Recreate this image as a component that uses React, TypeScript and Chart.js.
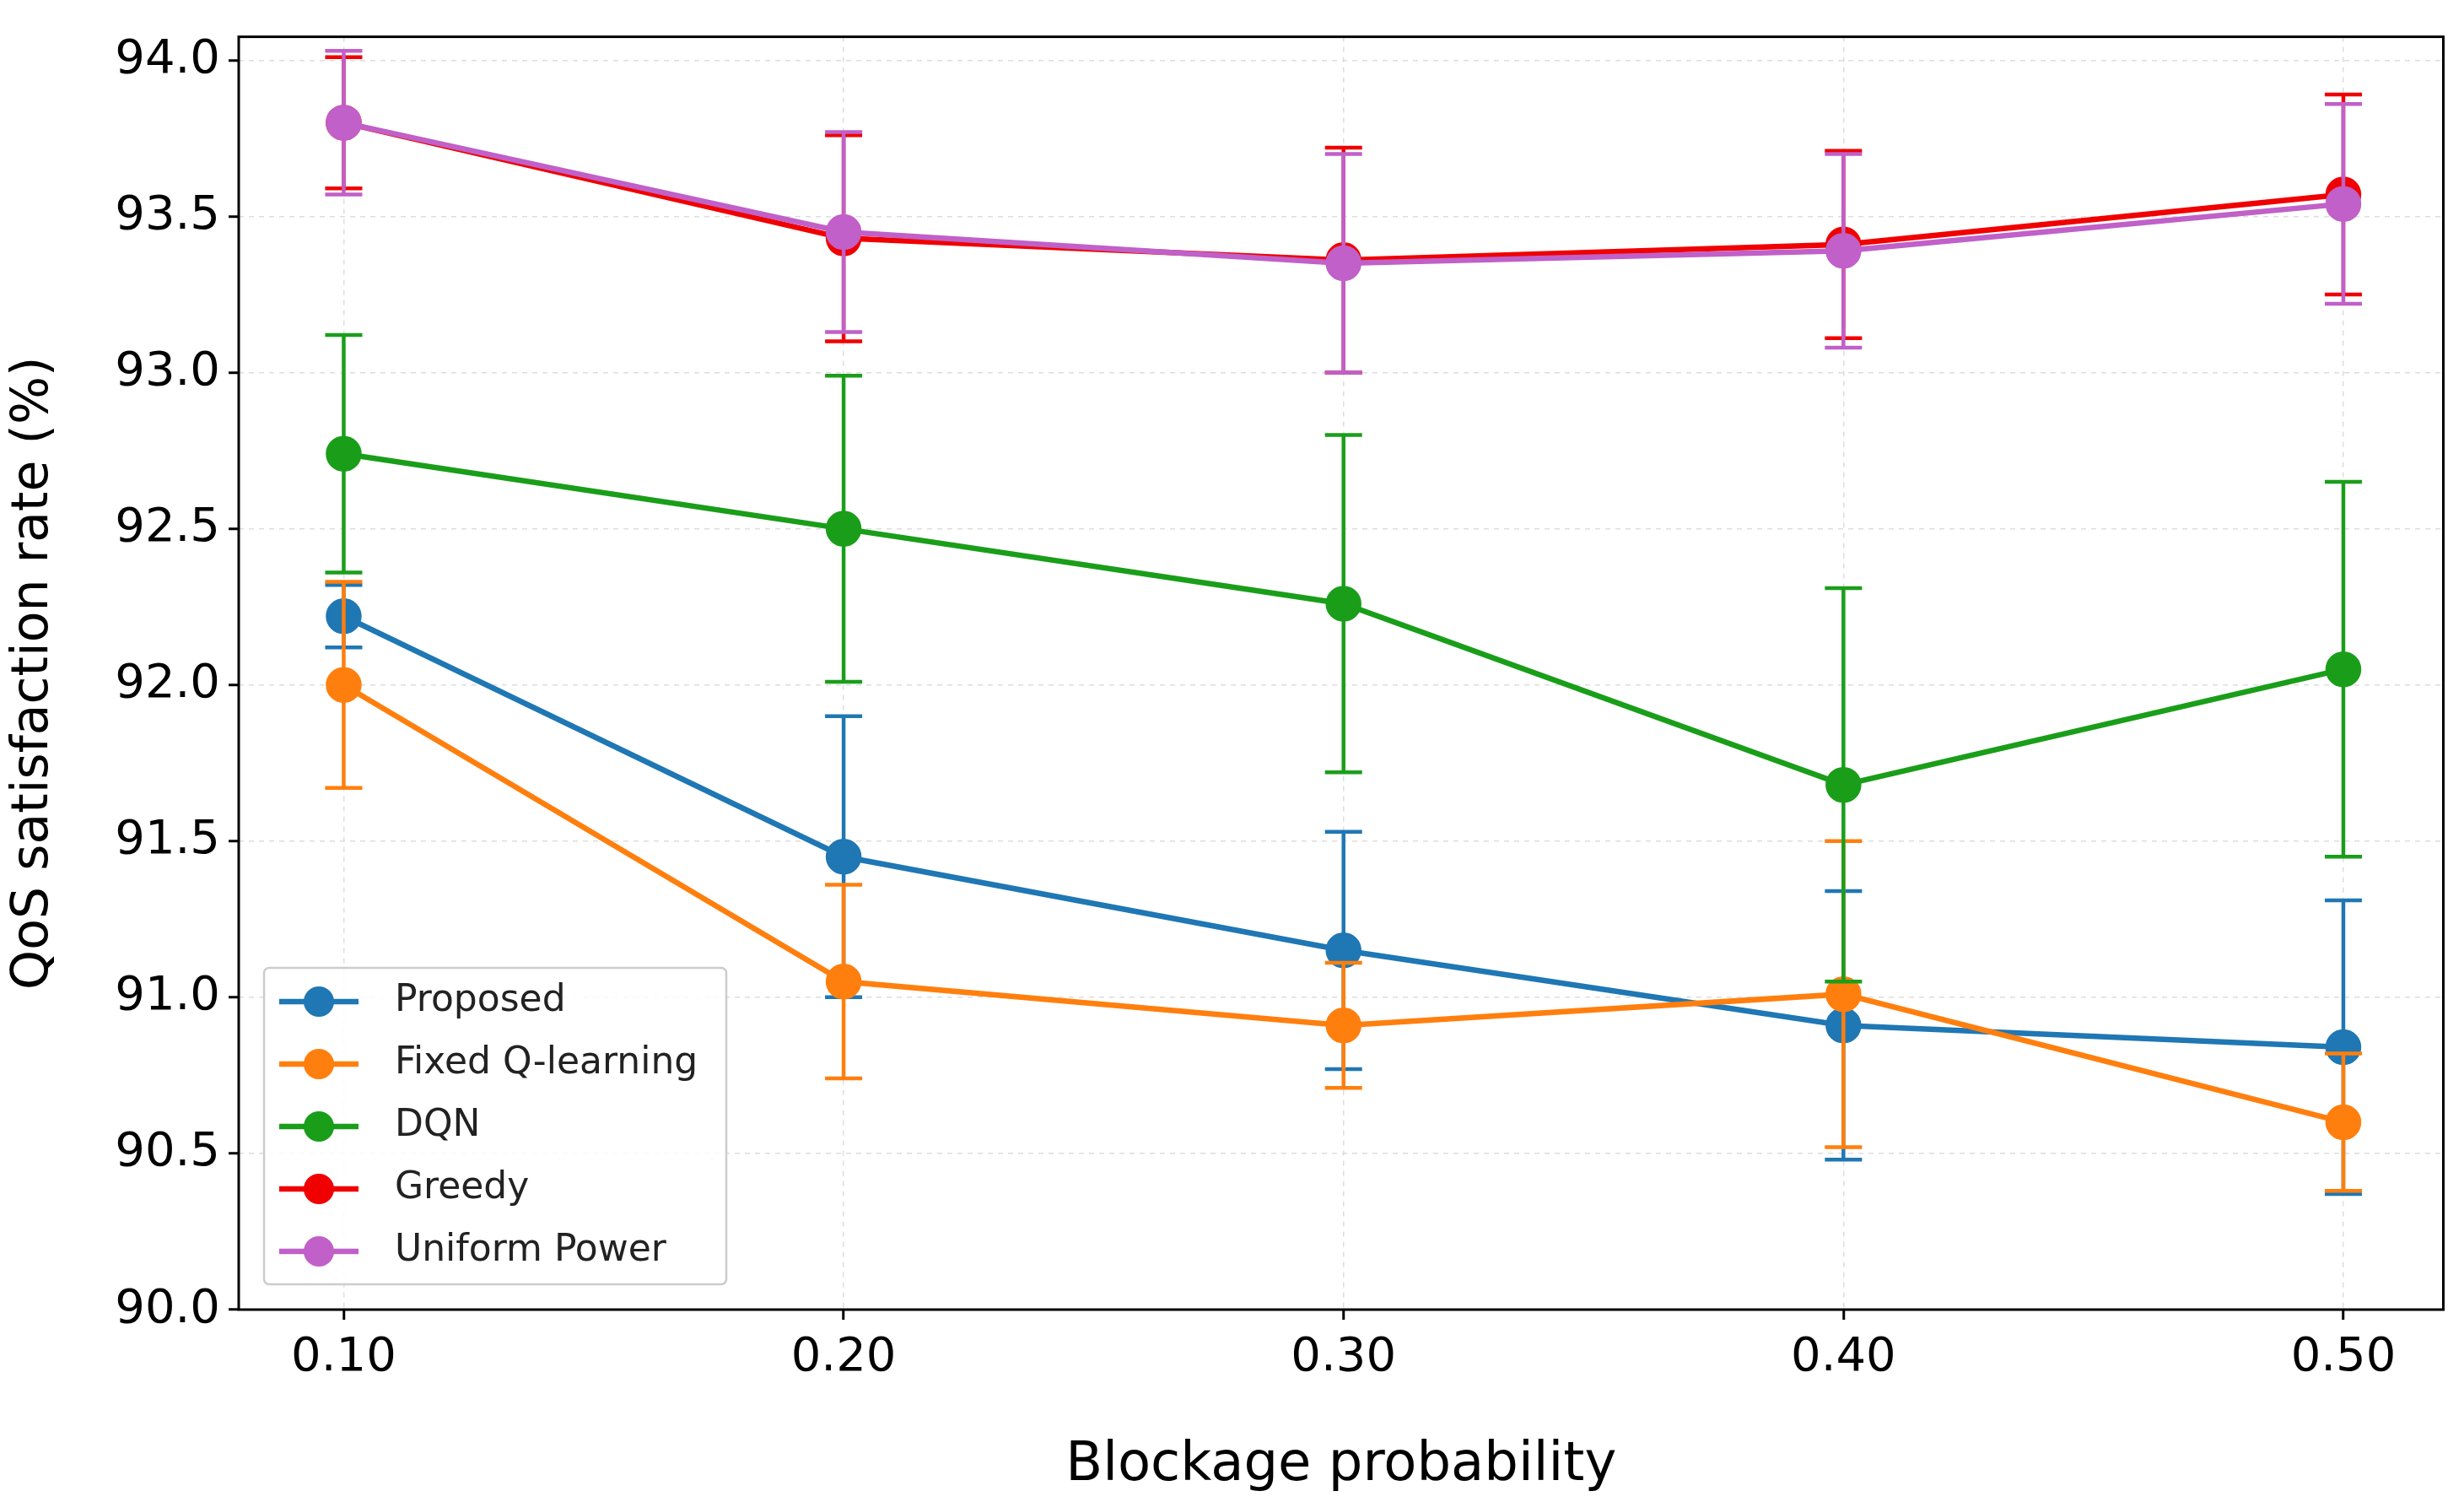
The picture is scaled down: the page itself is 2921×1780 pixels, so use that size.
import React, { useEffect, useRef } from "react";
import { Chart, registerables } from "chart.js";
Chart.register(...registerables);

const xValues = [0.1, 0.2, 0.3, 0.4, 0.5];
const tickValues = [0.1, 0.2, 0.3, 0.4, 0.5];
const seriesNames = ["Proposed", "Fixed Q-learning", "DQN", "Greedy", "Uniform Power"];
const seriesColors = ["#1f77b4", "#ff7f0e", "#1a9e1a", "#f00000", "#c060c8"];
const proposed = [92.22, 91.45, 91.15, 90.91, 90.84];
const proposedErr = [0.1, 0.45, 0.38, 0.43, 0.47];
const fixedQ = [92.0, 91.05, 90.91, 91.01, 90.6];
const fixedQErr = [0.33, 0.31, 0.2, 0.49, 0.22];
const dqn = [92.74, 92.5, 92.26, 91.68, 92.05];
const dqnErr = [0.38, 0.49, 0.54, 0.63, 0.6];
const greedy = [93.8, 93.43, 93.36, 93.41, 93.57];
const greedyErr = [0.21, 0.33, 0.36, 0.3, 0.32];
const uniform = [93.8, 93.45, 93.35, 93.39, 93.54];
const uniformErr = [0.23, 0.32, 0.35, 0.31, 0.32];

const allValues = [proposed, fixedQ, dqn, greedy, uniform];
const allErrs = [proposedErr, fixedQErr, dqnErr, greedyErr, uniformErr];

const errorBarPlugin = {
  id: "errbars",
  beforeDatasetDraw(chart: any, args: any) {
    const i = args.index;
    const ds = chart.data.datasets[i];
    const errs = ds.errs as number[];
    const ctx = chart.ctx;
    const x = chart.scales.x, y = chart.scales.y;
    ctx.save();
    ctx.strokeStyle = ds.borderColor;
    ctx.lineWidth = 4.5;
    ds.data.forEach((p: any, k: number) => {
      const px = x.getPixelForValue(p.x);
      const t = y.getPixelForValue(p.y + errs[k]);
      const b = y.getPixelForValue(p.y - errs[k]);
      ctx.beginPath();
      ctx.moveTo(px, t); ctx.lineTo(px, b);
      ctx.moveTo(px - 22, t); ctx.lineTo(px + 22, t);
      ctx.moveTo(px - 22, b); ctx.lineTo(px + 22, b);
      ctx.stroke();
    });
    ctx.restore();
  },
};

const framePlugin = {
  id: "frame",
  afterDraw(chart: any) {
    const { ctx, chartArea: a } = chart;
    ctx.save();
    ctx.strokeStyle = "#000";
    ctx.lineWidth = 3;
    ctx.strokeRect(a.left, a.top, a.right - a.left, a.bottom - a.top);
    const lx = a.left + 30, ly = a.bottom - 405, lw = 548, lh = 375;
    ctx.fillStyle = "rgba(255,255,255,0.85)";
    ctx.strokeStyle = "#cccccc";
    ctx.lineWidth = 2.5;
    ctx.beginPath();
    ctx.roundRect(lx, ly, lw, lh, 6);
    ctx.fill(); ctx.stroke();
    ctx.font = "44px 'DejaVu Sans'";
    ctx.textBaseline = "middle";
    chart.data.datasets.forEach((ds: any, i: number) => {
      const cy = ly + 40 + i * 74;
      ctx.strokeStyle = ds.borderColor;
      ctx.lineWidth = 6.5;
      ctx.beginPath(); ctx.moveTo(lx + 18, cy); ctx.lineTo(lx + 112, cy); ctx.stroke();
      ctx.fillStyle = ds.borderColor;
      ctx.beginPath(); ctx.arc(lx + 65, cy, 18, 0, Math.PI * 2); ctx.fill();
      ctx.fillStyle = "#222";
      ctx.fillText(ds.label, lx + 155, cy);
    });
    ctx.restore();
  },
};

export default function App() {
  const ref = useRef<HTMLCanvasElement>(null);
  useEffect(() => {
    const chart = new Chart(ref.current!, {
      type: "line",
      data: {
        datasets: seriesNames.map((n, i) => ({
          label: n,
          data: xValues.map((x, k) => ({ x, y: allValues[i][k] })),
          errs: allErrs[i],
          order: 4 - i,
          borderColor: seriesColors[i],
          backgroundColor: seriesColors[i],
          borderWidth: 6.5,
          pointRadius: 18,
          pointHoverRadius: 18,
          tension: 0,
        })) as any,
      },
      options: {
        animation: false,
        responsive: true,
        maintainAspectRatio: false,
        layout: { padding: { top: 37, right: 24, left: 0, bottom: 0 } },
        plugins: { legend: { display: false }, tooltip: { enabled: false } },
        scales: {
          x: {
            type: "linear",
            min: 0.079,
            max: 0.52,
            afterBuildTicks: (s: any) => { s.ticks = tickValues.map((v) => ({ value: v })); },
            afterFit: (s: any) => { s.height = 228; },
            ticks: { font: { size: 56, family: "'DejaVu Sans'" }, color: "#000", callback: (v: any) => Number(v).toFixed(2), padding: 12 },
            grid: { color: "#dddddd", lineWidth: 1.5, tickColor: "#000", tickLength: 12, tickWidth: 3 } as any,
            border: { dash: [6, 6], display: false } as any,
            title: { display: true, text: "Blockage probability", font: { size: 64, family: "'DejaVu Sans'" }, color: "#000", padding: { top: 0 } },
          },
          y: {
            min: 90,
            max: 94.075,
            afterBuildTicks: (s: any) => { s.ticks = [90, 90.5, 91, 91.5, 92, 92.5, 93, 93.5, 94].map((v) => ({ value: v })); },
            afterFit: (s: any) => { s.width = 283; },
            ticks: { font: { size: 56, family: "'DejaVu Sans'" }, color: "#000", callback: (v: any) => Number(v).toFixed(1), padding: 10 },
            grid: { color: "#dddddd", lineWidth: 1.5, tickColor: "#000", tickLength: 12, tickWidth: 3 } as any,
            border: { dash: [6, 6], display: false } as any,
            title: { display: true, text: "QoS satisfaction rate (%)", font: { size: 60, family: "'DejaVu Sans'" }, color: "#000", padding: { bottom: 8 } },
          },
        },
      },
      plugins: [errorBarPlugin, framePlugin],
    });
    return () => chart.destroy();
  }, []);
  return (
    <div style={{ position: "absolute", left: 0, top: 0, width: 2921, height: 1780, background: "#fff" }}>
      <canvas ref={ref} />
    </div>
  );
}
